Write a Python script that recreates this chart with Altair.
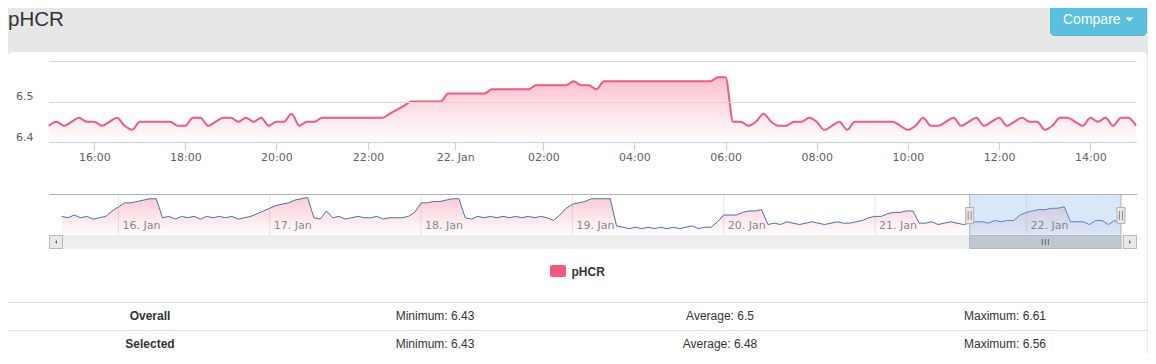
import altair as alt
import pandas as pd

# ---------------- data ----------------
series_name = "pHCR"
page_title = "pHCR"
button_label = "Compare"

# main (selected) series: 10-minute readings from 21 Jan 15:00 to 22 Jan 15:00
MAIN_START = "2017-01-21 15:00"
MAIN_STEP = "10min"
main_15_17 = [6.44, 6.45, 6.44, 6.45, 6.46, 6.45, 6.45, 6.44, 6.45, 6.46, 6.44, 6.43]
main_17_19 = [6.45, 6.45, 6.45, 6.45, 6.45, 6.44, 6.44, 6.46, 6.46, 6.44, 6.45, 6.46]
main_19_21 = [6.46, 6.45, 6.46, 6.45, 6.46, 6.44, 6.45, 6.45, 6.47, 6.44, 6.45, 6.45]
main_21_23 = [6.46, 6.46, 6.46, 6.46, 6.46, 6.46, 6.46, 6.46, 6.46, 6.47, 6.48, 6.49]
main_23_01 = [6.50, 6.50, 6.50, 6.50, 6.50, 6.52, 6.52, 6.52, 6.52, 6.52, 6.52, 6.53]
main_01_03 = [6.53, 6.53, 6.53, 6.53, 6.53, 6.54, 6.54, 6.54, 6.54, 6.54, 6.55, 6.54]
main_03_05 = [6.54, 6.53, 6.55, 6.55, 6.55, 6.55, 6.55, 6.55, 6.55, 6.55, 6.55, 6.55]
main_05_07 = [6.55, 6.55, 6.55, 6.55, 6.55, 6.56, 6.56, 6.45, 6.45, 6.44, 6.45, 6.47]
main_07_09 = [6.45, 6.44, 6.44, 6.45, 6.45, 6.46, 6.45, 6.43, 6.44, 6.45, 6.43, 6.45]
main_09_11 = [6.45, 6.45, 6.45, 6.45, 6.45, 6.44, 6.43, 6.44, 6.46, 6.44, 6.44, 6.45]
main_11_13 = [6.46, 6.44, 6.45, 6.46, 6.44, 6.45, 6.46, 6.44, 6.45, 6.46, 6.45, 6.45]
main_13_15 = [6.43, 6.44, 6.46, 6.46, 6.45, 6.44, 6.46, 6.45, 6.46, 6.44, 6.46, 6.46]
main_15_end = [6.44]

# navigator series: hourly readings from 15 Jan 15:00 to 22 Jan 15:00
NAV_START = "2017-01-15 15:00"
NAV_STEP = "1h"
nav_15jan = [6.49, 6.48, 6.50, 6.48, 6.49, 6.47, 6.48, 6.49, 6.53]
nav_16jan = [6.56, 6.59, 6.59, 6.60, 6.61, 6.62, 6.62, 6.48, 6.49, 6.47, 6.49, 6.48,
             6.49, 6.47, 6.49, 6.48, 6.49, 6.48, 6.49, 6.47, 6.48, 6.49, 6.51, 6.53]
nav_17jan = [6.55, 6.57, 6.58, 6.59, 6.61, 6.62, 6.63, 6.48, 6.47, 6.53, 6.48, 6.49,
             6.47, 6.48, 6.49, 6.48, 6.48, 6.49, 6.47, 6.48, 6.48, 6.48, 6.49, 6.52]
nav_18jan = [6.59, 6.59, 6.60, 6.60, 6.61, 6.62, 6.62, 6.48, 6.47, 6.49, 6.48, 6.49,
             6.48, 6.49, 6.48, 6.49, 6.48, 6.49, 6.48, 6.49, 6.48, 6.46, 6.50, 6.55]
nav_19jan = [6.58, 6.59, 6.60, 6.62, 6.62, 6.62, 6.62, 6.42, 6.41, 6.40, 6.41, 6.40,
             6.41, 6.40, 6.41, 6.40, 6.41, 6.40, 6.41, 6.42, 6.40, 6.41, 6.41, 6.45]
nav_20jan = [6.50, 6.50, 6.50, 6.52, 6.53, 6.53, 6.54, 6.43, 6.44, 6.43, 6.45, 6.44,
             6.43, 6.44, 6.45, 6.44, 6.43, 6.44, 6.45, 6.44, 6.44, 6.45, 6.46, 6.48]
nav_21jan = [6.49, 6.49, 6.51, 6.52, 6.52, 6.53, 6.53, 6.44, 6.44, 6.45, 6.43, 6.44,
             6.45, 6.44, 6.43, 6.44, 6.45, 6.45, 6.44, 6.46, 6.45, 6.46, 6.46, 6.50]
nav_22jan = [6.52, 6.53, 6.54, 6.54, 6.55, 6.55, 6.56, 6.45, 6.45, 6.45, 6.43, 6.46,
             6.46, 6.43, 6.46, 6.44]

main_ticks = ["2017-01-21 16:00", "2017-01-21 18:00", "2017-01-21 20:00", "2017-01-21 22:00",
              "2017-01-22 00:00", "2017-01-22 02:00", "2017-01-22 04:00", "2017-01-22 06:00",
              "2017-01-22 08:00", "2017-01-22 10:00", "2017-01-22 12:00", "2017-01-22 14:00"]
main_y_ticks = [6.4, 6.5, 6.6]
day_ticks = ["2017-01-16", "2017-01-17", "2017-01-18", "2017-01-19",
             "2017-01-20", "2017-01-21", "2017-01-22"]
day_labels = ["16. Jan", "17. Jan", "18. Jan", "19. Jan", "20. Jan", "21. Jan", "22. Jan"]
selected_range = ["2017-01-21 15:00", "2017-01-22 15:00"]

table_rows = ["Overall", "Selected"]
stat_min = [6.43, 6.43]
stat_avg = [6.5, 6.48]
stat_max = [6.61, 6.56]


def ms(s):
    return int(pd.Timestamp(s).value // 10**6)


main_values = (main_15_17 + main_17_19 + main_19_21 + main_21_23 + main_23_01 + main_01_03
               + main_03_05 + main_05_07 + main_07_09 + main_09_11 + main_11_13 + main_13_15
               + main_15_end)
main_times = pd.date_range(MAIN_START, periods=len(main_values), freq=MAIN_STEP)
main_df = pd.DataFrame({"t": [int(t.value // 10**6) for t in main_times], "v": main_values})

nav_values = nav_15jan + nav_16jan + nav_17jan + nav_18jan + nav_19jan + nav_20jan + nav_21jan + nav_22jan
nav_times = pd.date_range(NAV_START, periods=len(nav_values), freq=NAV_STEP)
nav_df = pd.DataFrame({"t": [int(t.value // 10**6) for t in nav_times], "v": nav_values})

days_df = pd.DataFrame({"t": [ms(d) for d in day_ticks], "label": day_labels})
sel_s, sel_e = ms(selected_range[0]), ms(selected_range[1])
sel_df = pd.DataFrame({"s": [sel_s], "e": [sel_e], "mid": [(sel_s + sel_e) / 2]})
handles_df = pd.DataFrame({"t": [sel_s, sel_e]})

cols = ["label", "min", "avg", "max"]
table_label_df = pd.DataFrame({"row": table_rows, "col": "label", "txt": table_rows})
table_stat_df = pd.DataFrame({
    "row": table_rows * 3,
    "col": ["min"] * 2 + ["avg"] * 2 + ["max"] * 2,
    "txt": [f"Minimum: {v}" for v in stat_min] + [f"Average: {v}" for v in stat_avg]
           + [f"Maximum: {v}" for v in stat_max],
})

# ---------------- styling ----------------
W, H = 1140, 346
PINK = "#f25a7d"
BG = "#e7e7e7"
LIB = "Liberation Sans"
DJV = "DejaVu Sans"
one = pd.DataFrame({"a": [1]})

# main x scale (ordinal-like spacing of the original axis)
knot_times = ["2017-01-21 15:00", "2017-01-21 20:00", "2017-01-21 22:00", "2017-01-22 00:00",
              "2017-01-22 02:00", "2017-01-22 04:00", "2017-01-22 15:00"]
knot_px = [40.8, 268.3, 360.0, 447.3, 535.3, 626.3, 1128.0]
main_x_scale = alt.Scale(domain=[ms(t) for t in knot_times], range=knot_px, nice=False, zero=False)
main_y_scale = alt.Scale(domain=[6.4, 6.6], range=[134, 53], nice=False, zero=False)

NAV_TOP, NAV_BOT = 186, 226.7
nav_x_scale = alt.Scale(domain=[ms(NAV_START), int(nav_times[-1].value // 10**6)],
                        range=[53.65, 1113.0], nice=False, zero=False)
nav_y_scale = alt.Scale(domain=[6.355, 6.655], range=[NAV_BOT, NAV_TOP], nice=False, zero=False)

# ---------------- layers ----------------
card = alt.Chart(one).mark_rect(fill="white", cornerRadius=4).encode(
    x=alt.value(0), x2=alt.value(1139), y=alt.value(44), y2=alt.value(362))

title = alt.Chart(one).mark_text(text=page_title, align="left", baseline="alphabetic",
                                 font=LIB, fontSize=20.5, color="#333333").encode(
    x=alt.value(0), y=alt.value(18))

button = alt.Chart(one).mark_rect(fill="#5bc0de", stroke="#46b8da", cornerRadius=4).encode(
    x=alt.value(1042.5), x2=alt.value(1138.5), y=alt.value(-6), y2=alt.value(27.5))
button_text = alt.Chart(one).mark_text(text=button_label, align="left", baseline="alphabetic",
                                       font=LIB, fontSize=14, color="white").encode(
    x=alt.value(1055), y=alt.value(16))
caret = alt.Chart(one).mark_point(shape="M-1,-0.5L1,-0.5L0,0.5Z", filled=True, color="white",
                                  size=64, opacity=1).encode(
    x=alt.value(1121.5), y=alt.value(11.5))

main_grad = alt.LinearGradient(
    gradient="linear", x1=0, x2=0, y1=0, y2=1,
    stops=[alt.GradientStop(color="rgba(242,90,125,0.55)", offset=0),
           alt.GradientStop(color="rgba(242,90,125,0.0)", offset=1)])

main = alt.Chart(main_df).mark_area(
    interpolate="monotone", color=main_grad,
    line={"color": PINK, "strokeWidth": 2}).encode(
    x=alt.X("t:Q", scale=main_x_scale, axis=alt.Axis(
        values=[ms(t) for t in main_ticks],
        labelExpr="utchours(datum.value) == 0 ? utcFormat(datum.value, '%d. %b') : utcFormat(datum.value, '%H:%M')",
        offset=-(H - 134), tickSize=8, tickColor="#C0D0E0", domainColor="#C0D0E0",
        labelColor="#606060", labelFont=DJV, labelFontSize=11, labelPadding=1,
        labelBaseline="top", labelFlush=False, labelOverlap=False, grid=False,
        title=None, zindex=1)),
    y=alt.Y("v:Q", scale=main_y_scale, axis=alt.Axis(
        values=main_y_ticks,
        labelExpr="datum.value > 6.55 ? '' : format(datum.value, '.1f')",
        offset=-25, ticks=False, tickSize=0, labelPadding=0, domain=False,
        grid=True, gridColor=alt.condition("datum.value < 6.45", alt.value("#C0D0E0"), alt.value("#D8D8D8")),
        labelColor="#606060", labelFont=DJV, labelFontSize=11, labelBaseline="alphabetic",
        labelOffset=-2, labelFlush=False, labelOverlap=False, title=None, zindex=1)),
    y2=alt.datum(6.4),
)

nav_grid = alt.Chart(days_df).mark_rule(color="#e6e6e6", strokeWidth=1).encode(
    x=alt.X("t:Q", scale=nav_x_scale, axis=None), y=alt.value(NAV_TOP), y2=alt.value(NAV_BOT))

nav_grad = alt.LinearGradient(
    gradient="linear", x1=0, x2=0, y1=0, y2=1,
    stops=[alt.GradientStop(color="rgba(242,90,125,0.45)", offset=0),
           alt.GradientStop(color="rgba(242,90,125,0.02)", offset=1)])

nav = alt.Chart(nav_df).mark_area(
    interpolate="linear", color=nav_grad,
    line={"color": "#4572A7", "strokeWidth": 1}).encode(
    x=alt.X("t:Q", scale=nav_x_scale, axis=None),
    y=alt.Y("v:Q", scale=nav_y_scale, axis=None),
    y2=alt.datum(6.355),
)

nav_labels = alt.Chart(days_df).mark_text(align="left", baseline="alphabetic", dx=4,
                                          font=DJV, fontSize=11, color="#888888").encode(
    x=alt.X("t:Q", scale=nav_x_scale, axis=None), y=alt.value(221.3), text="label:N")

mask = alt.Chart(sel_df).mark_rect(fill="rgba(128,179,236,0.3)").encode(
    x=alt.X("s:Q", scale=nav_x_scale, axis=None), x2="e",
    y=alt.value(NAV_TOP), y2=alt.value(NAV_BOT))

outline_top = alt.Chart(one).mark_rule(color="#b2b1b6", strokeWidth=1).encode(
    x=alt.value(41), x2=alt.value(1129), y=alt.value(186.5))
outline_sides = alt.Chart(handles_df).mark_rule(color="#b2b1b6", strokeWidth=1).encode(
    x=alt.X("t:Q", scale=nav_x_scale, axis=None), y=alt.value(NAV_TOP), y2=alt.value(NAV_BOT))

track = alt.Chart(one).mark_rect(fill="#eeeeee").encode(
    x=alt.value(41), x2=alt.value(1129), y=alt.value(227), y2=alt.value(241))
thumb = alt.Chart(sel_df).mark_rect(fill="#bfc8d1", stroke="#b0b9c3", strokeWidth=1).encode(
    x=alt.X("s:Q", scale=nav_x_scale, axis=None), x2="e",
    y=alt.value(227.5), y2=alt.value(240.5))
rifles = [
    alt.Chart(sel_df).mark_rule(color="#666666", strokeWidth=1, xOffset=off).encode(
        x=alt.X("mid:Q", scale=nav_x_scale, axis=None), y=alt.value(231), y2=alt.value(237))
    for off in (-3, 0, 3)
]
btn_left = alt.Chart(one).mark_rect(fill="#ebe7e8", stroke="#bbbbbb", strokeWidth=1).encode(
    x=alt.value(41.5), x2=alt.value(54.5), y=alt.value(227.5), y2=alt.value(240.5))
btn_right = alt.Chart(one).mark_rect(fill="#ebe7e8", stroke="#bbbbbb", strokeWidth=1).encode(
    x=alt.value(1115.5), x2=alt.value(1128.5), y=alt.value(227.5), y2=alt.value(240.5))
arrow_left = alt.Chart(one).mark_point(shape="M0.5,-1L0.5,1L-0.5,0Z", filled=True, color="#666666",
                                       size=16, opacity=1).encode(x=alt.value(48), y=alt.value(234))
arrow_right = alt.Chart(one).mark_point(shape="M-0.5,-1L-0.5,1L0.5,0Z", filled=True, color="#666666",
                                        size=16, opacity=1).encode(x=alt.value(1122), y=alt.value(234))

handles = alt.Chart(handles_df).mark_rect(fill="#ebe7e8", stroke="#b2b1b6", strokeWidth=1,
                                          xOffset=-4, x2Offset=4).encode(
    x=alt.X("t:Q", scale=nav_x_scale, axis=None), x2="t",
    y=alt.value(199.5), y2=alt.value(215.5))
grips = [
    alt.Chart(handles_df).mark_rule(color="#888888", strokeWidth=1, xOffset=off).encode(
        x=alt.X("t:Q", scale=nav_x_scale, axis=None), y=alt.value(203), y2=alt.value(212))
    for off in (-1.5, 1.5)
]

legend_swatch = alt.Chart(one).mark_rect(fill=PINK, cornerRadius=2).encode(
    x=alt.value(542), x2=alt.value(558), y=alt.value(257), y2=alt.value(269))
legend_text = alt.Chart(one).mark_text(text=series_name, align="left", baseline="alphabetic",
                                       font=LIB, fontSize=12, fontWeight="bold",
                                       color="#333333").encode(x=alt.value(563.5), y=alt.value(268))

table_lines = [
    alt.Chart(one).mark_rule(color="#dddddd", strokeWidth=1).encode(
        x=alt.value(0), x2=alt.value(1139), y=alt.value(yy))
    for yy in (294.5, 322.5)
]
col_scale = alt.Scale(type="point", domain=cols, range=[142, 997], padding=0)
row_scale = alt.Scale(type="point", domain=table_rows, range=[307.7, 336], padding=0)
table_labels = alt.Chart(table_label_df).mark_text(font=LIB, fontSize=12, fontWeight="bold",
                                                   color="#333333", baseline="middle").encode(
    x=alt.X("col:N", scale=col_scale, axis=None),
    y=alt.Y("row:N", scale=row_scale, axis=None), text="txt:N")
table_stats = alt.Chart(table_stat_df).mark_text(font=LIB, fontSize=12,
                                                 color="#333333", baseline="middle").encode(
    x=alt.X("col:N", scale=col_scale, axis=None),
    y=alt.Y("row:N", scale=row_scale, axis=None), text="txt:N")

layers = ([card, title, button, button_text, caret, main,
           nav_grid, nav, mask, nav_labels, outline_top, outline_sides,
           track, thumb] + rifles + [btn_left, btn_right, arrow_left, arrow_right, handles]
          + grips + [legend_swatch, legend_text] + table_lines + [table_labels, table_stats])

chart = alt.layer(*layers).resolve_scale(x="independent", y="independent").properties(
    width=W, height=H, autosize=alt.AutoSizeParams(type="none"), padding=0,
    background=BG,
).configure_view(strokeWidth=0)

chart.save("out.html", embed_options={"renderer": "svg", "actions": False})
